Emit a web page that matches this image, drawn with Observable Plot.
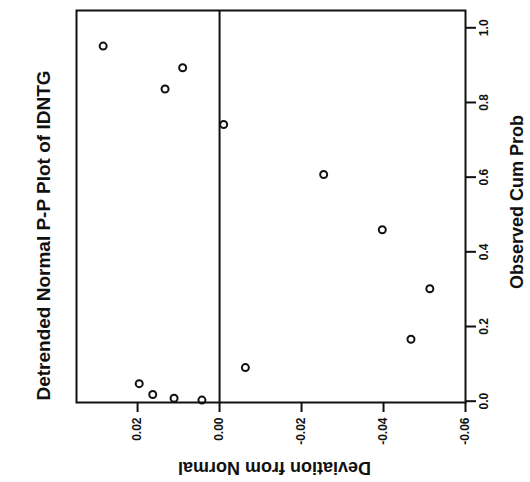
<!DOCTYPE html>
<html>
<head>
<meta charset="utf-8">
<script src="https://cdn.jsdelivr.net/npm/d3@7"></script>
<script src="https://cdn.jsdelivr.net/npm/@observablehq/plot@0.6"></script>
<style>
  html, body { margin: 0; padding: 0; background: #fff; }
  #chart svg { display: block; }
</style>
</head>
<body>
<div id="chart"></div>
<script>
// ---- data ----
const titleText = "Detrended Normal P-P Plot of IDNTG";
const xLabel = "Deviation from Normal";
const yLabel = "Observed Cum Prob";

const xTicks = [0.02, 0.00, -0.02, -0.04, -0.06];
const xTickLabels = ["0.02", "0.00", "-0.02", "-0.04", "-0.06"];
const yTicks = [0.0, 0.2, 0.4, 0.6, 0.8, 1.0];
const yTickLabels = ["0.0", "0.2", "0.4", "0.6", "0.8", "1.0"];

const deviation = [0.0284, 0.0090, 0.0133, -0.0010, -0.0254, -0.0397, -0.0513, -0.0467, -0.0063, 0.0196, 0.0163, 0.0111, 0.0043];
const observedCumProb = [0.951, 0.893, 0.836, 0.741, 0.607, 0.459, 0.301, 0.166, 0.090, 0.047, 0.018, 0.008, 0.003];

const points = deviation.map((d, i) => ({dev: d, prob: observedCumProb[i]}));
const xTickData = xTicks.map((v, i) => ({v, label: xTickLabels[i]}));
const yTickData = yTicks.map((v, i) => ({v, label: yTickLabels[i]}));

const ink = "#111";
const font = "'Liberation Sans', Arial, Helvetica, sans-serif";

const chart = Plot.plot({
  width: 530,
  height: 482,
  marginLeft: 76,
  marginRight: 65,
  marginTop: 10,
  marginBottom: 80,
  style: {fontFamily: font, fontWeight: "bold", color: ink, background: "#fff"},
  x: {domain: [0.0349, -0.06], axis: null},
  y: {domain: [-0.0035, 1.0463], axis: null},
  marks: [
    Plot.frame({stroke: ink, strokeWidth: 2}),
    Plot.ruleX([0], {stroke: ink, strokeWidth: 2}),
    Plot.axisX(xTicks, {anchor: "bottom", tickSize: 10, tickFormat: () => null, stroke: ink, strokeWidth: 2, label: null}),
    Plot.axisY(yTicks, {anchor: "right", tickSize: 10, tickFormat: () => null, stroke: ink, strokeWidth: 2, label: null}),
    Plot.text(xTickData, {x: "v", text: "label", frameAnchor: "bottom", dy: 15, rotate: -90, textAnchor: "end", lineAnchor: "middle", fontSize: 12, fontWeight: "bold", fill: ink}),
    Plot.text(yTickData, {y: "v", text: "label", frameAnchor: "right", dx: 22, rotate: -90, textAnchor: "middle", lineAnchor: "bottom", fontSize: 12, fontWeight: "bold", fill: ink}),
    Plot.dot(points, {x: "dev", y: "prob", r: 3.5, stroke: ink, strokeWidth: 2, fill: "none"}),
    Plot.text([titleText], {frameAnchor: "left", dx: -27, dy: 29, rotate: -90, textAnchor: "middle", lineAnchor: "bottom", fontSize: 19, fontWeight: "bold", fill: ink}),
    Plot.text([xLabel], {frameAnchor: "bottom", dx: 3.5, dy: 59, rotate: 180, textAnchor: "middle", lineAnchor: "bottom", fontSize: 18, fontWeight: "bold", fill: ink}),
    Plot.text([yLabel], {frameAnchor: "right", dx: 57, dy: -4.5, rotate: -90, textAnchor: "middle", lineAnchor: "bottom", fontSize: 18, fontWeight: "bold", fill: ink})
  ]
});
document.getElementById("chart").appendChild(chart);
</script>
</body>
</html>
